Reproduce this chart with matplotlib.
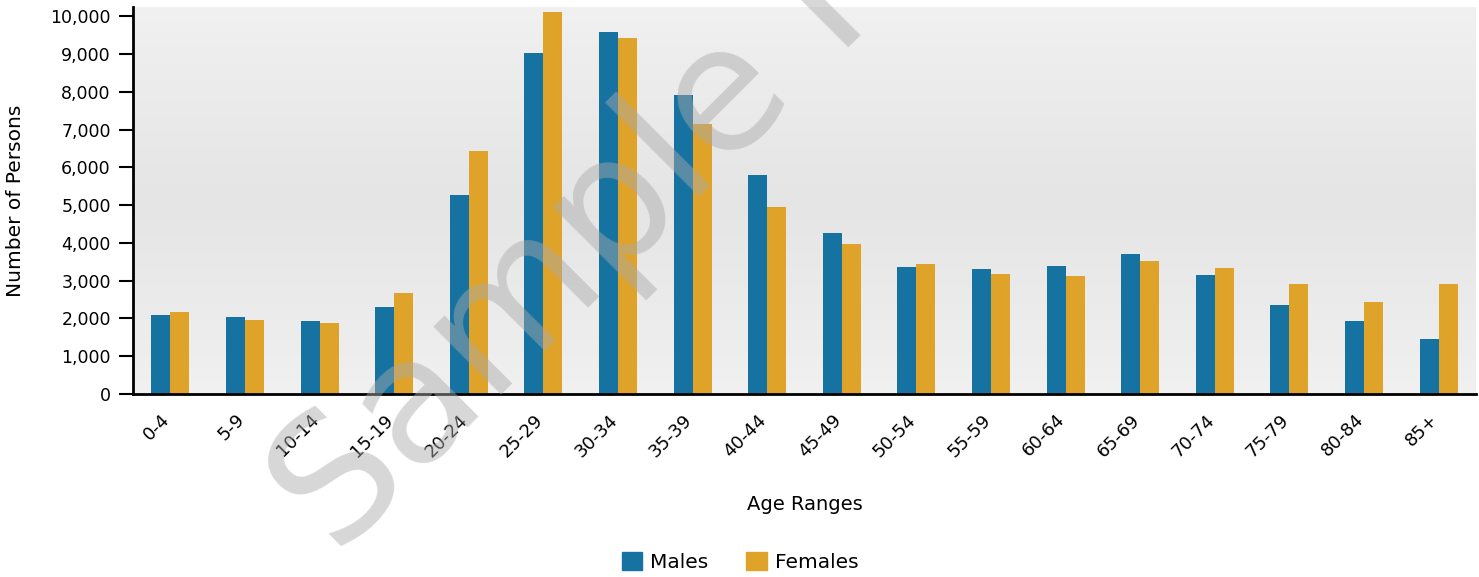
import numpy as np
import matplotlib
matplotlib.use("Agg")
import matplotlib.pyplot as plt
from matplotlib.patches import Patch
from matplotlib.ticker import FuncFormatter

# age distribution data
age_ranges = ["0-4", "5-9", "10-14", "15-19", "20-24", "25-29", "30-34", "35-39",
              "40-44", "45-49", "50-54", "55-59", "60-64", "65-69", "70-74",
              "75-79", "80-84", "85+"]
males = [2090, 2040, 1935, 2305, 5275, 9035, 9595, 7925, 5805, 4265, 3365, 3310,
         3390, 3710, 3155, 2360, 1935, 1455]
females = [2175, 1960, 1880, 2675, 6440, 10125, 9435, 7155, 4955, 3975, 3445, 3180,
           3125, 3525, 3340, 2915, 2440, 2915]

blue = "#1572a1"
gold = "#dfa32a"
ymax = 10250

fig = plt.figure(figsize=(14.79, 5.77), dpi=100)
ax = fig.add_axes([133 / 1479, 183 / 577, 1343 / 1479, 387 / 577])

# light grey vertical gradient background
n = 256
pos = np.linspace(0, 1, n)  # 0 = bottom, 1 = top
shade = np.interp(pos, [0, 0.1, 0.5, 0.9, 1.0], [241, 238, 229, 238, 241]) / 255
grad = np.dstack([shade, shade, shade])[::-1].reshape(n, 1, 3)
ax.imshow(grad, extent=[-0.5, len(age_ranges) - 0.5, 0, ymax], aspect="auto",
          zorder=0, interpolation="bilinear")

x = np.arange(len(age_ranges))
w = 0.255
ax.bar(x - w / 2, males, width=w, color=blue, zorder=2)
ax.bar(x + w / 2, females, width=w, color=gold, zorder=2)

ax.set_xlim(-0.5, len(age_ranges) - 0.5)
ax.set_ylim(0, ymax)
ax.set_yticks(range(0, 10001, 1000))
ax.yaxis.set_major_formatter(FuncFormatter(lambda v, p: f"{v:,.0f}"))
# labels sit slightly left of the group centre (ticks themselves are hidden)
ax.set_xticks(x - 0.13)
ax.set_xticklabels(age_ranges, rotation=45, ha="right", rotation_mode="anchor")

for s in ["top", "right"]:
    ax.spines[s].set_visible(False)
for s in ["left", "bottom"]:
    ax.spines[s].set_linewidth(2)
    ax.spines[s].set_color("black")
    ax.spines[s].set_zorder(3)

ax.tick_params(axis="y", length=10, width=1.5, labelsize=12.5, pad=6)
ax.tick_params(axis="x", length=0, labelsize=13, pad=12)

ax.set_ylabel("Number of Persons", fontsize=14.5, labelpad=18)
ax.set_xlabel("Age Ranges", fontsize=14, labelpad=25)

handles = [Patch(color=blue, label="Males"), Patch(color=gold, label="Females")]
fig.legend(handles=handles, loc="center", bbox_to_anchor=(740 / 1479, 1 - 562 / 577),
           ncol=2, frameon=False, fontsize=14.5, handlelength=1.0, handleheight=1.0,
           columnspacing=1.9, handletextpad=0.4)

# watermark
fig.text(338 / 1479, 1 - 559 / 577, "Sample Report", rotation=45,
         rotation_mode="anchor", ha="left", va="baseline", fontsize=125,
         color="#aaaaaa", alpha=0.47, zorder=10)

fig.savefig("out.png", dpi=100)
